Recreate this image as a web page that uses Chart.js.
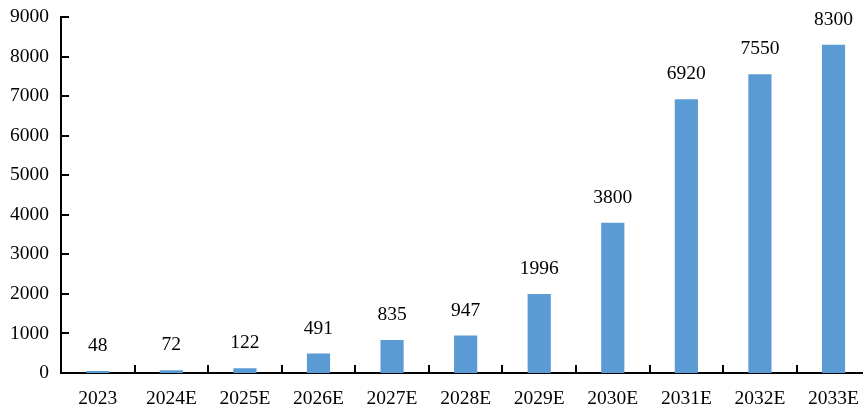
<!DOCTYPE html>
<html>
<head>
<meta charset="utf-8">
<script src="https://cdn.jsdelivr.net/npm/chart.js@4.4.1/dist/chart.umd.min.js"></script>
<style>
  html, body { margin: 0; padding: 0; background: #fff; overflow: hidden; }
  #wrap { width: 873px; height: 410px; position: relative; }
</style>
</head>
<body>
<div id="wrap"><canvas id="marketChart"></canvas></div>
<script>
const years = ['2023', '2024E', '2025E', '2026E', '2027E', '2028E', '2029E', '2030E', '2031E', '2032E', '2033E'];
const values = [48, 72, 122, 491, 835, 947, 1996, 3800, 6920, 7550, 8300];
const yMax = 9000;
const yStep = 1000;

const barBlue = '#5B9BD5';
const fontFamily = '"Liberation Serif", "Times New Roman", serif';
const fontSize = 19.5;

// short inward tick marks on both axes
const innerTicks = {
    id: 'innerTicks',
    afterDraw(chart) {
        const { ctx, chartArea, scales: { x, y } } = chart;
        ctx.save();
        ctx.strokeStyle = '#000';
        ctx.lineWidth = 2;
        ctx.beginPath();
        y.ticks.forEach((t, i) => {
            const py = Math.round(y.getPixelForTick(i));
            ctx.moveTo(chartArea.left, py);
            ctx.lineTo(chartArea.left + 8, py);
        });
        for (let i = 1; i <= years.length; i++) {
            const px = Math.round(x.getPixelForValue(i - 0.5));
            ctx.moveTo(px, chartArea.bottom);
            ctx.lineTo(px, chartArea.bottom - 8);
        }
        ctx.stroke();
        ctx.restore();
    }
};

// value printed above each bar
const valueLabels = {
    id: 'valueLabels',
    afterDatasetsDraw(chart) {
        const { ctx } = chart;
        const meta = chart.getDatasetMeta(0);
        ctx.save();
        ctx.fillStyle = '#000';
        ctx.font = fontSize + 'px ' + fontFamily;
        ctx.textAlign = 'center';
        ctx.textBaseline = 'alphabetic';
        meta.data.forEach((bar, i) => {
            ctx.fillText(String(values[i]), bar.x, bar.y - 20);
        });
        ctx.restore();
    }
};

const ctx = document.getElementById('marketChart').getContext('2d');
const marketChart = new Chart(ctx, {
    type: 'bar',
    data: {
        labels: years,
        datasets: [{
            data: values,
            backgroundColor: barBlue,
            borderWidth: 0,
            barPercentage: 0.315,
            categoryPercentage: 1
        }]
    },
    options: {
        responsive: true,
        maintainAspectRatio: false,
        animation: false,
        layout: { padding: { top: 17, right: 1, left: 0, bottom: 0 } },
        plugins: { legend: { display: false }, tooltip: { enabled: false } },
        scales: {
            x: {
                offset: true,
                grid: { display: false, drawTicks: false },
                border: { display: true, color: '#000', width: 2 },
                ticks: { color: '#000', font: { family: fontFamily, size: fontSize }, padding: 14, maxRotation: 0, autoSkip: false },
                afterFit(scale) { scale.height = 37; }
            },
            y: {
                min: 0,
                max: yMax,
                grid: { display: false, drawTicks: false },
                border: { display: true, color: '#000', width: 2 },
                ticks: {
                    stepSize: yStep,
                    color: '#000',
                    font: { family: fontFamily, size: fontSize },
                    padding: 12,
                    callback: (v) => String(v)
                },
                afterFit(scale) {
                    scale.width = 61;
                    scale.paddingTop = 0;
                    scale.paddingBottom = 0;
                }
            }
        }
    },
    plugins: [innerTicks, valueLabels]
});
</script>
</body>
</html>
